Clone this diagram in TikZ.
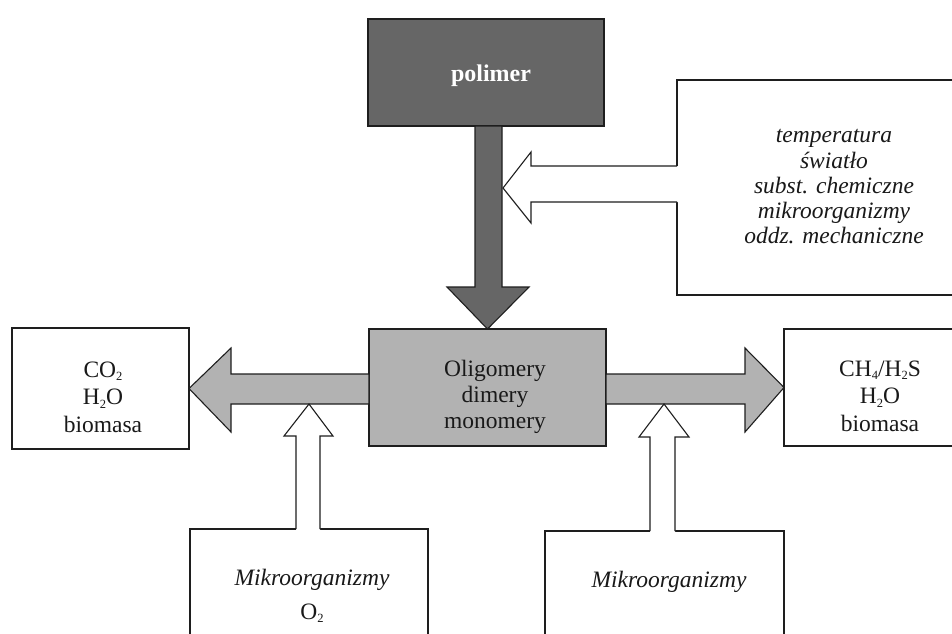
\documentclass[tikz,border=0pt]{standalone}
\usepackage{fontspec}
\setmainfont{Liberation Serif}
\definecolor{dkgray}{HTML}{666666}
\definecolor{ltgray}{HTML}{B2B2B2}
\definecolor{edge}{HTML}{1E1E1E}
\newcommand{\lowsub}[1]{\raisebox{-3.5pt}{\fontsize{12.5}{12.5}\selectfont #1}}
\tikzset{
  outline/.style={draw=edge, line width=1.1pt, line join=miter},
  boxshape/.style={outline, rectangle, inner sep=0pt, outer sep=0pt, anchor=north west, fill=white},
  txt/.style={align=center, inner sep=0pt, text=black!90, font=\fontsize{23.5}{#1}\selectfont},
  itxt/.style={txt=#1, font=\fontsize{23.5}{#1}\selectfont\itshape},
  darkarrow/.style={outline, fill=dkgray},
  lightarrow/.style={outline, fill=ltgray},
}
\begin{document}
\begin{tikzpicture}[x=1pt,y=-1pt]
\useasboundingbox (0,0) rectangle (952,633);
\clip (0,0) rectangle (952,633);
\fill[white] (0,0) rectangle (952,633);

% boxes
\node[boxshape, fill=dkgray, minimum width=236pt, minimum height=107pt] (poly) at (368,19) {};
\node[boxshape, minimum width=320pt, minimum height=215pt] (fac) at (677,80) {};
\node[boxshape, fill=ltgray, minimum width=237pt, minimum height=117pt] (olig) at (369,329) {};
\node[boxshape, minimum width=177pt, minimum height=121pt] (lbox) at (12,328) {};
\node[boxshape, minimum width=200pt, minimum height=117pt] (rbox) at (784,329) {};
\node[boxshape, minimum width=238pt, minimum height=140pt] (mik1) at (190,529) {};
\node[boxshape, minimum width=239pt, minimum height=140pt] (mik2) at (545,531) {};

% down arrow polimer -> oligomery
\draw[darkarrow] (475,0 |- poly.south) -- (475,287) -- (447,287) -- (olig.north)
  -- (529,287) -- (502,287) -- (502,0 |- poly.south) -- cycle;

% factors arrow (part of the factors box outline)
\fill[white] (679,166) -- (531,166) -- (531,152) -- (503,188) -- (531,223) -- (531,202) -- (679,202) -- cycle;
\draw[outline] (fac.west |- 0,166) -- (531,166) -- (531,152) -- (503,188)
  -- (531,223) -- (531,202) -- (fac.west |- 0,202);

% side arrows
\draw[lightarrow] (olig.west |- 0,374) -- (231,374) -- (231,348) -- (lbox.east)
  -- (231,432) -- (231,404) -- (olig.west |- 0,404) -- cycle;
\draw[lightarrow] (olig.east |- 0,374) -- (745,374) -- (745,348) -- (rbox.west)
  -- (745,432) -- (745,404) -- (olig.east |- 0,404) -- cycle;

% up arrows (part of the bottom boxes outline)
\fill[white] (296,531) -- (296,436) -- (284,436) -- (309,404) -- (333,436) -- (320,436) -- (320,531) -- cycle;
\draw[outline] (mik1.north -| 296,0) -- (296,436) -- (284,436) -- (309,404)
  -- (333,436) -- (320,436) -- (mik1.north -| 320,0);
\fill[white] (650,533) -- (650,437) -- (639,437) -- (664,404) -- (689,437) -- (675,437) -- (675,533) -- cycle;
\draw[outline] (mik2.north -| 650,0) -- (650,437) -- (639,437) -- (664,404)
  -- (689,437) -- (675,437) -- (mik2.north -| 675,0);

% texts
\node[txt=26, text=white, font=\fontsize{24}{26}\selectfont\bfseries] (polyT) at (491,75.8) {\strut polimer\strut};
\node[itxt=25.25] (facT) at (834,188.4) {\strut temperatura\\światło\\subst. chemiczne\\mikroorganizmy\\oddz. mechaniczne\strut};
\node[txt=26] (oligT) at (495,396.8) {\strut Oligomery\\dimery\\monomery\strut};
\node[txt=27.5] (lboxT) at (103,399) {\strut CO\lowsub{2}\\H\lowsub{2}O\\biomasa\strut};
\node[txt=27.5] (rboxT) at (880,398) {\strut CH\lowsub{4}/H\lowsub{2}S\\H\lowsub{2}O\\biomasa\strut};
\node[txt=34] (mik1T) at (312,595.2) {\strut{\itshape Mikroorganizmy}\\O\lowsub{2}\strut};
\node[itxt=26] (mik2T) at (669,581.8) {\strut Mikroorganizmy\strut};
\end{tikzpicture}
\end{document}
